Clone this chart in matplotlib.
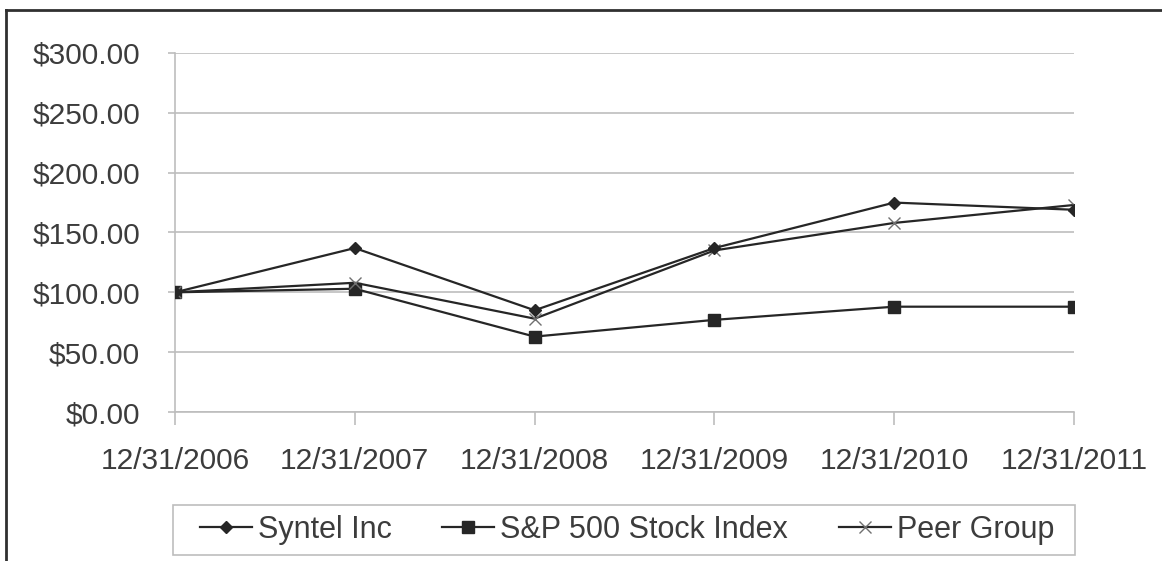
import matplotlib
matplotlib.use("Agg")
import matplotlib.pyplot as plt
from matplotlib.lines import Line2D
from matplotlib.patches import Rectangle
from matplotlib.ticker import FuncFormatter

plt.rcParams['font.family'] = ['Liberation Sans', 'DejaVu Sans']

categories = ["12/31/2006", "12/31/2007", "12/31/2008", "12/31/2009", "12/31/2010", "12/31/2011"]
syntel = [100, 137, 85, 137, 175, 169]
sp500 = [100, 103, 63, 77, 88, 88]
peer = [100, 108, 78, 135, 158, 173]
yticks = [0, 50, 100, 150, 200, 250, 300]

W, H = 1162, 561
fig = plt.figure(figsize=(W / 100, H / 100), dpi=100)
ax = fig.add_axes([175 / W, 1 - 412 / H, (1074 - 175) / W, (412 - 53) / H])

txt = '#3c3c3c'
grid = '#bdbdbd'
line_c = '#262626'
fs = 21.5

x = list(range(len(categories)))
ax.plot(x, syntel, color=line_c, lw=1.6, marker='D', ms=6, mfc=line_c, mec=line_c, label='Syntel Inc', zorder=4)
ax.plot(x, sp500, color=line_c, lw=1.6, marker='s', ms=9, mfc=line_c, mec=line_c, label='S&P 500 Stock Index', zorder=3)
ax.plot(x, peer, color=line_c, lw=1.6, marker='x', ms=8, mew=1.0, mec='#707070', label='Peer Group', zorder=3)

ax.set_xlim(0, len(categories) - 1)
ax.set_ylim(0, 300)
ax.set_yticks(yticks)
ax.yaxis.set_major_formatter(FuncFormatter(lambda v, p: f"${v:,.2f}"))
ax.set_xticks(x)
ax.set_xticklabels(categories)

ax.grid(axis='y', color=grid, lw=1.2)
ax.set_axisbelow(True)
for s in ['top', 'right']:
    ax.spines[s].set_visible(False)
for s in ['left', 'bottom']:
    ax.spines[s].set_color(grid)
    ax.spines[s].set_linewidth(1.2)

ax.tick_params(axis='y', length=5, width=1.2, color=grid, labelsize=fs, labelcolor=txt, pad=20)
ax.tick_params(axis='x', length=9, width=1.2, color=grid, labelsize=fs, labelcolor=txt, pad=16)

# legend box
fig.add_artist(Rectangle((173 / W, 1 - 555 / H), (1075 - 173) / W, 50 / H,
                         transform=fig.transFigure, fill=False, edgecolor=grid, lw=1.2))
leg = fig.legend(loc='center', bbox_to_anchor=(627 / W, 1 - 530 / H), ncol=3,
                 fontsize=22, frameon=False,
                 handlelength=1.7, handletextpad=0.2, columnspacing=1.65,
                 borderpad=0.0, borderaxespad=0)
for t in leg.get_texts():
    t.set_color(txt)

# outer frame (cropped)
fig.add_artist(Line2D([6 / W, 1.0], [1 - 10 / H, 1 - 10 / H], color='#303030', lw=2, transform=fig.transFigure))
fig.add_artist(Line2D([6 / W, 6 / W], [1 - 10 / H, 0.0], color='#303030', lw=2, transform=fig.transFigure))

fig.savefig('out.png', dpi=100)
